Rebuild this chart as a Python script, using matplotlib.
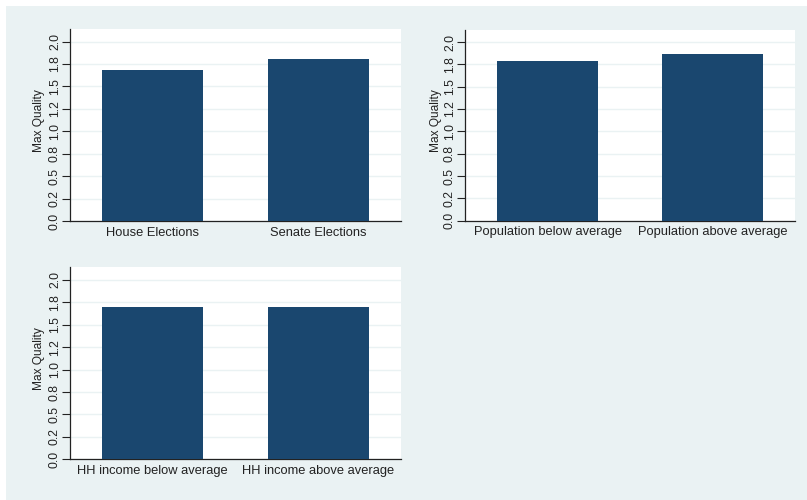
import matplotlib
matplotlib.use("Agg")
import matplotlib.pyplot as plt
from matplotlib.patches import Rectangle

plt.rcParams['font.family'] = ['Liberation Sans', 'DejaVu Sans']

# Data
election_types = ["House Elections", "Senate Elections"]
election_quality = [1.685, 1.81]

population_groups = ["Population below average", "Population above average"]
population_quality = [1.785, 1.865]

income_groups = ["HH income below average", "HH income above average"]
income_quality = [1.70, 1.70]

y_ticks = [0.0, 0.25, 0.5, 0.75, 1.0, 1.25, 1.5, 1.75, 2.0]
y_tick_labels = ["0.0", "0.2", "0.5", "0.8", "1.0", "1.2", "1.5", "1.8", "2.0"]
y_label = "Max Quality"

BAR_COLOR = "#1A476F"
BG_COLOR = "#EAF2F3"
GRID_COLOR = "#EAF2F3"

W, H = 807, 500
fig = plt.figure(figsize=(W / 100, H / 100), dpi=100)
fig.patch.set_facecolor("white")
fig.patches.append(Rectangle((6 / W, 0), 1 - 6 / W, 1 - 6 / H,
                             transform=fig.transFigure, facecolor=BG_COLOR,
                             edgecolor="none", zorder=-10))


def panel(left, top, right, bottom, labels, values, label_x):
    ax = fig.add_axes([left / W, 1 - bottom / H, (right - left) / W, (bottom - top) / H])
    ax.set_zorder(1)
    ax.set_facecolor("white")
    x = list(range(len(labels)))
    ax.bar(x, values, width=0.61, color=BAR_COLOR, edgecolor="none", zorder=3)
    ax.set_xlim(-0.5, 1.5)
    ax.set_ylim(0, 2.14)
    ax.set_xticks(x)
    ax.set_xticklabels(labels, fontsize=9.3, color="#222222")
    ax.tick_params(axis="x", length=0, pad=4)
    ax.set_yticks(y_ticks)
    ax.set_yticklabels(y_tick_labels, rotation=90, va="center", fontsize=8.7,
                       color="#222222")
    ax.tick_params(axis="y", length=5.5, width=0.8, pad=1.0, color="#222222")
    ax.yaxis.grid(True, color=GRID_COLOR, linewidth=1.0, zorder=0)
    ax.set_axisbelow(True)
    ax.set_ylabel(y_label, fontsize=8.6, color="#222222")
    ax.yaxis.set_label_coords(label_x, 0.525)
    for side in ("top", "right"):
        ax.spines[side].set_visible(False)
    for side in ("left", "bottom"):
        ax.spines[side].set_color("#222222")
        ax.spines[side].set_linewidth(0.9)
    return ax


panel(70, 29, 401, 221, election_types, election_quality, -0.077)
panel(465, 29.5, 795, 220.7, population_groups, population_quality, -0.071)
panel(70, 267.3, 401, 459.3, income_groups, income_quality, -0.077)

fig.savefig("out.png", dpi=100, facecolor=fig.get_facecolor())
